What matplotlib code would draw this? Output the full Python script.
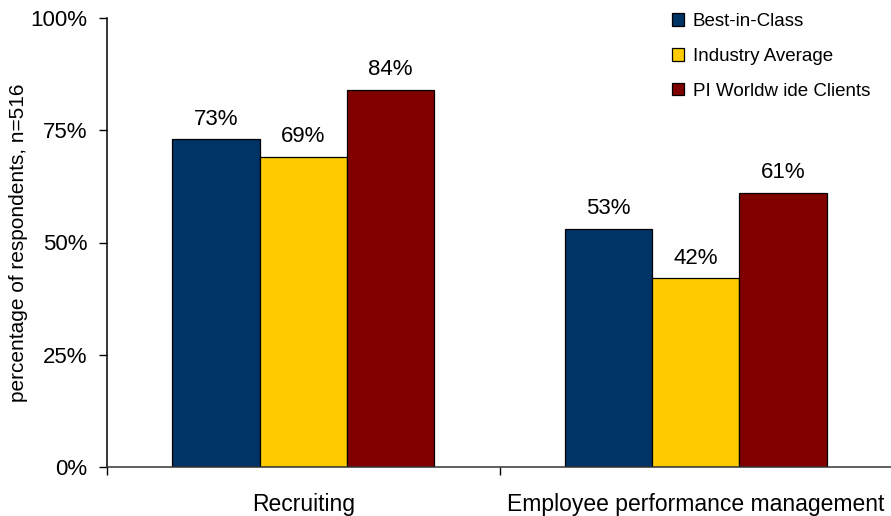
import matplotlib.pyplot as plt
from matplotlib.patches import Patch
from matplotlib.ticker import FixedLocator, PercentFormatter
import numpy as np

plt.rcParams['font.family'] = ['Liberation Sans', 'DejaVu Sans']

# survey results, % of respondents
categories = ["Recruiting", "Employee performance management"]
series_names = ["Best-in-Class", "Industry Average", "PI Worldw ide Clients"]
best_in_class = [73, 53]
industry_avg = [69, 42]
pi_clients = [84, 61]
y_ticks = [0, 25, 50, 75, 100]

colors = ["#003366", "#FFCC00", "#800000"]

fig = plt.figure(figsize=(8.91, 5.16), dpi=100)
ax = fig.add_axes([107 / 891, 1 - 467 / 516, 785 / 891, 449 / 516])

x = np.arange(len(categories))
width = 0.2225
for j, (vals, col) in enumerate(zip([best_in_class, industry_avg, pi_clients], colors)):
    bars = ax.bar(x + (j - 1) * width, vals, width, color=col,
                  edgecolor="black", linewidth=0.9, zorder=2)
    for b, v in zip(bars, vals):
        ax.annotate(f"{v}%", (b.get_x() + b.get_width() / 2, v),
                    xytext=(0, 7), textcoords="offset points",
                    ha="center", va="bottom", fontsize=16)

ax.set_xlim(-0.5, 1.5)
ax.set_ylim(0, 100)
ax.set_yticks(y_ticks)
ax.yaxis.set_major_formatter(PercentFormatter(decimals=0))
ax.tick_params(axis="y", labelsize=16, length=6, width=1, pad=8)

# category labels centred, tick marks on the boundaries
ax.set_xticks(x)
ax.set_xticklabels(categories, fontsize=16.5)
ax.tick_params(axis="x", which="major", length=0, pad=19)
ax.xaxis.set_minor_locator(FixedLocator([-0.5, 0.5, 1.5]))
ax.tick_params(axis="x", which="minor", length=6, width=1, direction="out")

ax.spines["top"].set_visible(False)
ax.spines["right"].set_visible(False)
ax.spines["left"].set_linewidth(1.1)
ax.spines["bottom"].set_linewidth(1.1)
ax.spines["bottom"].set_color("#333333")

ax.set_ylabel("percentage of respondents, n=516", fontsize=15, labelpad=2)

handles = [Patch(facecolor=c, edgecolor="black", linewidth=0.9) for c in colors]
fig.legend(handles, series_names, loc="upper left",
           bbox_to_anchor=(659 / 891, 1 - 0 / 516), frameon=False,
           fontsize=13.5, handlelength=0.65, handleheight=0.65,
           handletextpad=0.45, labelspacing=0.95, borderpad=0.2)

fig.savefig("out.png", dpi=100)
